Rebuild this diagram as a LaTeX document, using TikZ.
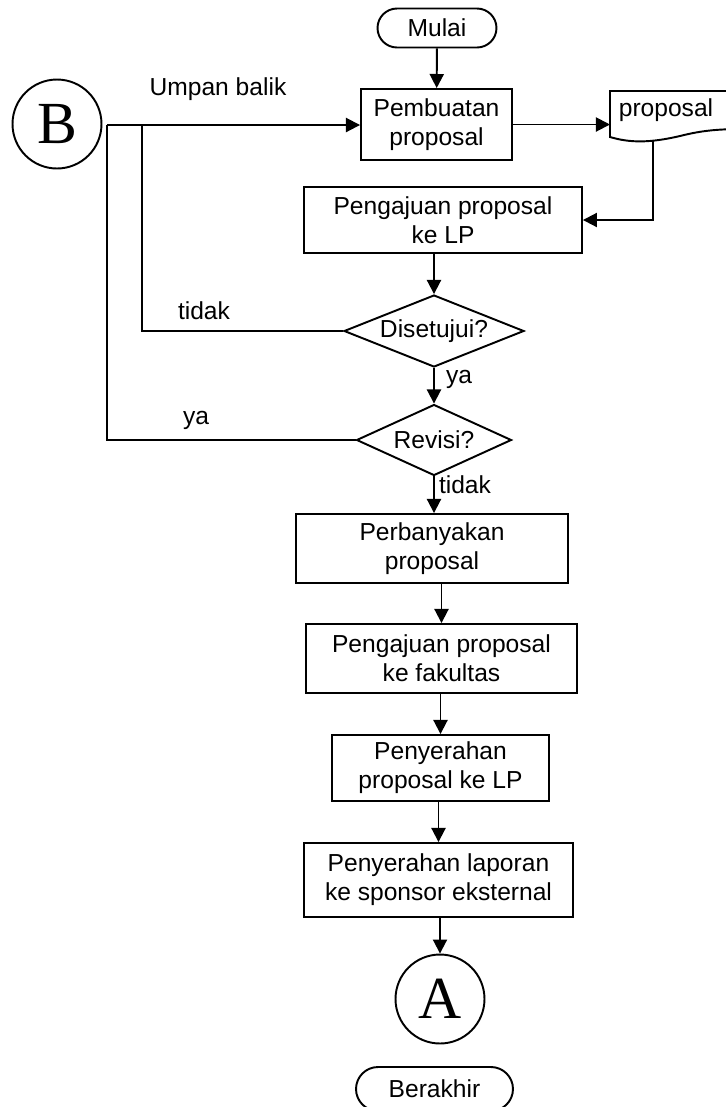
\documentclass[tikz,border=0pt]{standalone}
\usepackage{fontspec}
\setmainfont{Liberation Sans}
\newfontfamily\connfont{Liberation Serif}
\usetikzlibrary{shapes,arrows.meta}

\begin{document}
\begin{tikzpicture}[x=0.02cm, y=-0.02cm, >={Triangle[length=8pt,width=8pt]}, line width=1.1pt,
	font=\fontsize{14pt}{16.5pt}\selectfont,
	box/.style={draw, rectangle, align=center, inner sep=0pt},
	term/.style={draw, rounded rectangle, inner sep=0pt},
	dec/.style={draw, diamond, inner sep=0pt},
	conn/.style={draw, circle, minimum size=1.78cm, inner sep=0pt, font=\connfont\fontsize{34pt}{34pt}\selectfont}]
	\useasboundingbox (0,0) rectangle (725,1107);
	\node [term, minimum width=2.38cm, minimum height=0.78cm] (mulai) at (437,28) {Mulai};
	\node [box, minimum width=3.02cm, minimum height=1.42cm] (buat) at (436.5,124.5) {Pembuatan\\proposal};
	\node (doc) at (666,110) {proposal};
	\node [box, minimum width=5.56cm, minimum height=1.32cm] (ajuan) at (443,220) {Pengajuan proposal\\ke LP};
	\node [dec, aspect=2.5, minimum width=3.6cm, minimum height=1.44cm] (setuju) at (434,331) {Disetujui?};
	\node [dec, aspect=2.2, minimum width=3.1cm, minimum height=1.42cm] (revisi) at (434,440) {Revisi?};
	\node [box, minimum width=5.44cm, minimum height=1.38cm] (banyak) at (432,548.5) {Perbanyakan\\proposal};
	\node [box, minimum width=5.42cm, minimum height=1.38cm] (fak) at (441.5,658.5) {Pengajuan proposal\\ke fakultas};
	\node [box, minimum width=4.34cm, minimum height=1.32cm] (serah) at (440.5,768) {Penyerahan\\proposal ke LP};
	\node [box, minimum width=5.38cm, minimum height=1.48cm] (lapor) at (438.5,880) {Penyerahan laporan\\ke sponsor eksternal};
	\node [conn] (A) at (440,999) {A};
	\node [term, minimum width=3.14cm, minimum height=0.88cm] (akhir) at (434.5,1089) {Berakhir};
	\node [conn] (B) at (57,124) {B};
	% labels
	\node (umpan) at (218,89) {Umpan balik};
	\node (tidak1) at (204,311) {tidak};
	\node (ya1) at (196,420) {ya};
	\node (ya2) at (459,379) {ya};
	\node (tidak2) at (465,485) {tidak};
	% document shape
	\draw (745,91) -- (610,91) -- (610,137) .. controls (630,143) and (650,143) .. (680,136) .. controls (700,131) and (715,129) .. (745,129);
	\coordinate (docin) at (610,124.5);
	\coordinate (docout) at (653,141);
	\coordinate (fb1) at (107,125);
	\coordinate (fb2) at (142,125);
	% connectors
	\draw [->] (mulai) -- (buat);
	\draw [->] (buat.east) -- (docin);
	\draw [->] (docout) |- (ajuan.east);
	\draw [->] (ajuan.south -| setuju.north) -- (setuju.north);
	\draw [->] (setuju) -- (revisi);
	\draw [->] (revisi.south) -- (revisi.south |- banyak.north);
	\draw [->] (banyak.south -| fak.north) -- (fak.north);
	\draw [->] (fak.south -| serah.north) -- (serah.north);
	\draw [->] (serah.south -| lapor.north) -- (lapor.north);
	\draw [->] (lapor.south -| A.north) -- (A.north);
	\draw [->] (fb1) -- (fb1 -| buat.west);
	\draw (setuju.west) -| (fb2);
	\draw (revisi.west) -| (fb1);
\end{tikzpicture}
\end{document}
